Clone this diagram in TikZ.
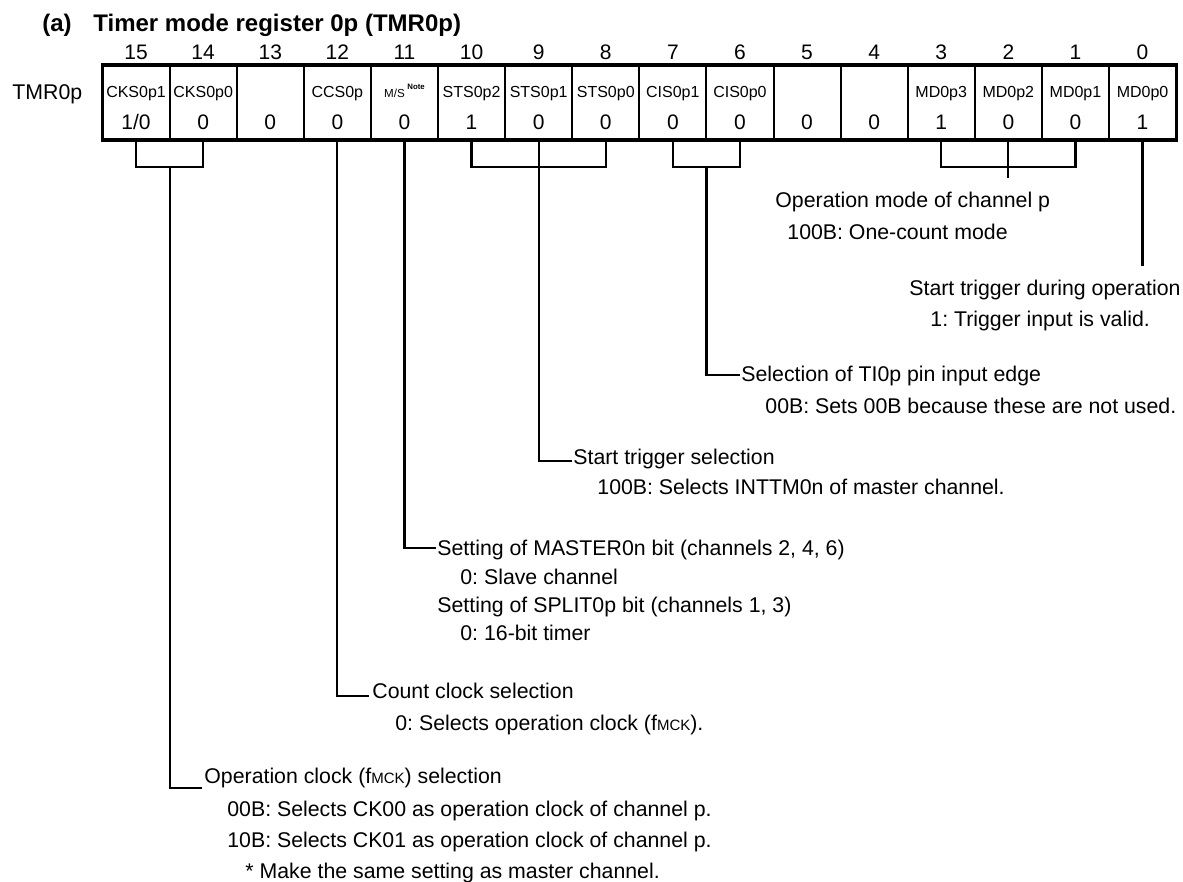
\documentclass[tikz,border=0pt]{standalone}
\usepackage{fontspec}
\setmainfont{Liberation Sans}
\usetikzlibrary{calc}
\frenchspacing
\newcommand\fmck{f{\fontsize{7.5}{8}\selectfont MCK}}
\newcommand\valOZ{1/0}
\newcommand\msname{{\fontsize{5.8}{6}\selectfont M/S}\,\raisebox{3.8pt}{\fontsize{3.9}{4}\selectfont\bfseries Note}}
\begin{document}
\begin{tikzpicture}[x=0.5pt,y=-0.5pt,
  txt/.style={anchor=base west, inner sep=0pt, font=\fontsize{10.65}{12}\selectfont},
  ttl/.style={anchor=base west, inner sep=0pt, font=\fontsize{12}{14}\selectfont\bfseries},
  nm/.style={anchor=base, inner sep=0pt, font=\fontsize{8}{9}\selectfont},
  val/.style={anchor=base, inner sep=0pt, font=\fontsize{10.5}{12}\selectfont},
  bitno/.style={anchor=base, inner sep=0pt, font=\fontsize{10.5}{12}\selectfont},
  cell/.style={draw, line width=1pt, minimum width=33.55pt, minimum height=37.5pt, inner sep=0pt, outer sep=0pt},
  frame/.style={line width=1.6pt},
  conn/.style={line width=1.1pt}]
\useasboundingbox (0,0) rectangle (1183,882);
\node[ttl] (ttl1) at (42,32) {(a)};
\node[ttl] (ttl2) at (93,32) {Timer mode register 0p (TMR0p)};
\node[txt] (reg) at (12,100) {TMR0p};
\foreach \b/\nm/\v [count=\i from 0] in {15/CKS0p1/\valOZ, 14/CKS0p0/0, 13//0, 12/CCS0p/0, 11/\msname/0, 10/STS0p2/1, 9/STS0p1/0, 8/STS0p0/0, 7/CIS0p1/0, 6/CIS0p0/0, 5//0, 4//0, 3/MD0p3/1, 2/MD0p2/0, 1/MD0p1/0, 0/MD0p0/1}{
  \pgfmathsetmacro\cx{102.5+67.1*(\i+0.5)}
  \node[cell] (c\b) at (\cx,102.5) {};
  \node[bitno] (n\b) at (\cx,59.5) {\b};
  \node[nm] (m\b) at (\cx,97.5) {\nm};
  \node[val] (v\b) at (\cx,129.5) {\v};
}
\draw[frame] (c15.north west) rectangle (c0.south east);
% levels
\coordinate (lvlK) at (0,167);
\coordinate (lvlMD) at (0,178);
\coordinate (lvlG) at (0,266);
% bits 15/14
\coordinate (kA) at ($(c15.south |- lvlK)!0.5!(c14.south |- lvlK)$);
\draw[conn] (c15.south) |- (kA) -| (c14.south);
\coordinate (eA) at (202,788);
\draw[conn] (kA) |- (eA);
% bit 12
\coordinate (eB) at (369,696);
\draw[conn] (c12.south) |- (eB);
% bit 11
\coordinate (eC) at (436,548);
\draw[conn] (c11.south) |- (eC);
% bits 10-8
\coordinate (kD) at (c9.south |- lvlK);
\draw[conn] (c10.south) |- (kD) -| (c8.south);
\coordinate (eD) at (572,461);
\draw[conn] (c9.south) |- (eD);
% bits 7/6
\coordinate (kE) at ($(c7.south |- lvlK)!0.5!(c6.south |- lvlK)$);
\draw[conn] (c7.south) |- (kE) -| (c6.south);
\coordinate (eE) at (740,375);
\draw[conn] (kE) |- (eE);
% bits 3-1
\coordinate (kF) at (c2.south |- lvlK);
\draw[conn] (c3.south) |- (kF) -| (c1.south);
\coordinate (eF) at (c2.south |- lvlMD);
\draw[conn] (c2.south) -- (eF);
% bit 0
\coordinate (eG) at (c0.south |- lvlG);
\draw[conn] (c0.south) -- (eG);
% texts
\node[txt] (t1) at (775,208) {Operation mode of channel p};
\node[txt] (t2) at (787,240) {100B: One-count mode};
\node[txt] (t3) at (909,295) {Start trigger during operation};
\node[txt] (t4) at (930,326) {1: Trigger input is valid.};
\node[txt] (t5) at (741,381) {Selection of TI0p pin input edge};
\node[txt] (t6) at (765,413) {00B: Sets 00B because these are not used.};
\node[txt] (t7) at (573,464) {Start trigger selection};
\node[txt] (t8) at (597,494) {100B: Selects INTTM0n of master channel.};
\node[txt] (t9) at (437,555) {Setting of MASTER0n bit (channels 2, 4, 6)};
\node[txt] (t10) at (460,584) {0: Slave channel};
\node[txt] (t11) at (437,612) {Setting of SPLIT0p bit (channels 1, 3)};
\node[txt] (t12) at (460,640) {0: 16-bit timer};
\node[txt] (t13) at (372,698) {Count clock selection};
\node[txt] (t14) at (395,730) {0: Selects operation clock (\fmck).};
\node[txt] (t15) at (204,783) {Operation clock (\fmck) selection};
\node[txt] (t16) at (227,816) {00B: Selects CK00 as operation clock of channel p.};
\node[txt] (t17) at (227,847) {10B: Selects CK01 as operation clock of channel p.};
\node[txt] (t18) at (245,878) {* Make the same setting as master channel.};
\end{tikzpicture}
\end{document}
